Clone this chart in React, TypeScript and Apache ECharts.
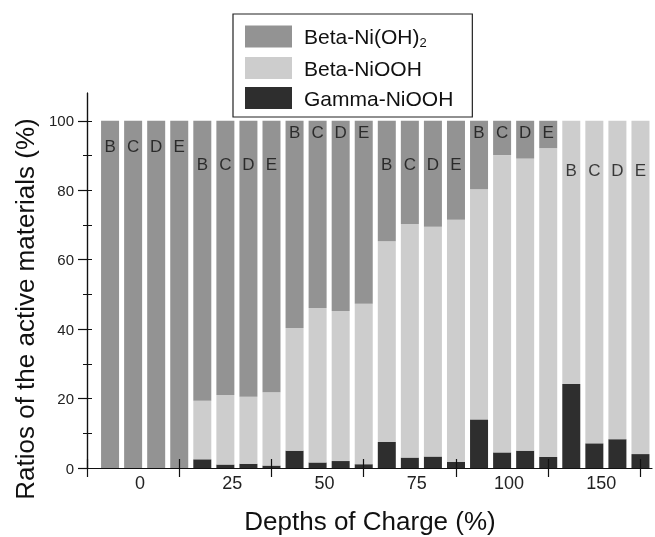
import React, { useEffect, useRef } from 'react';
import * as echarts from 'echarts';

const depthLabels = ['0', '25', '50', '75', '100', '150'];
const sampleLetters = ['B', 'C', 'D', 'E'];
const seriesNames = ['Beta-Ni(OH)2', 'Beta-NiOOH', 'Gamma-NiOOH'];

// per bar: groups 0,25,50,75,100,150 x samples B,C,D,E
const gammaNiOOH = [0, 0, 0, 0, 2.5, 1.0, 1.2, 0.7, 5.0, 1.6, 2.0, 1.1, 7.5, 3.0, 3.3, 1.8, 14.0, 4.5, 5.0, 3.2, 24.2, 7.1, 8.3, 4.0];
const betaNiOOH = [0, 0, 0, 0, 16.9, 20.0, 19.3, 21.1, 35.3, 44.5, 43.2, 46.2, 57.8, 67.3, 66.2, 69.7, 66.3, 85.6, 84.1, 88.9, 75.8, 92.9, 91.7, 96.0];
const betaNiOH2 = [100, 100, 100, 100, 80.6, 79.0, 79.5, 78.2, 59.7, 53.9, 54.8, 52.7, 34.7, 29.7, 30.5, 28.5, 19.7, 9.9, 10.9, 7.9, 0, 0, 0, 0];
const letterLevels = [92.5, 87.3, 96.5, 87.3, 96.5, 85.7];
const yLabelValues = [0, 20, 40, 60, 80, 100];
const yMinorValues = [10, 30, 50, 70, 90];

const colors = { ohm: '#939393', niooh: '#cdcdcd', gamma: '#2e2e2e' };

export default function App() {
  const ref = useRef<HTMLDivElement>(null);
  useEffect(() => {
    const chart = echarts.init(ref.current!, null, { renderer: 'svg' });
    // half-unit slots along the x axis: slot 2*(i+1) holds bar i
    const nSlots = 2 * betaNiOH2.length + 2;
    const slotCats = Array.from({ length: nSlots }, (_, j) => String(j));
    const slotOf = (i: number) => 2 * (i + 1);
    const toSlots = (arr: number[]) => {
      const out: any[] = slotCats.map(() => '-');
      arr.forEach((v, i) => {
        out[slotOf(i)] = v;
      });
      return out;
    };
    const xMax = (nSlots - 1) / 2;
    const groupTicks = depthLabels.map((_, k) => k * 4).concat([depthLabels.length * 4]);
    const labelPos = depthLabels.map((_, k) => k * 4 + 2.3);
    const font = 'Liberation Sans, Arial, Helvetica, sans-serif';
    const letterData: any[] = betaNiOH2.map((_, i) => [slotOf(i), letterLevels[Math.floor(i / 4)]]);
    const barCommon = {
      type: 'bar',
      stack: 'total',
      barWidth: 18,
      xAxisIndex: 0,
      yAxisIndex: 0,
    };
    chart.setOption({
      animation: false,
      textStyle: { fontFamily: font },
      grid: { left: 87, right: 3, top: 93, bottom: 69, containLabel: false, outerBoundsMode: 'none' },
      legend: {
        data: seriesNames,
        orient: 'vertical',
        left: 233,
        top: 14,
        padding: [10, 19, 8, 12],
        itemGap: 8,
        itemWidth: 47,
        itemHeight: 22,
        icon: 'rect',
        borderColor: '#222',
        borderWidth: 1.2,
        selectedMode: false,
        formatter: (name: string) => (name === 'Beta-Ni(OH)2' ? 'Beta-Ni(OH){sub|2}' : name),
        textStyle: {
          fontFamily: font,
          fontSize: 21,
          color: '#111',
          lineHeight: 22,
          padding: [0, 0, 0, 7],
          rich: {
            sub: { fontSize: 13, fontFamily: font, color: '#111', padding: [12, 0, 0, 0], lineHeight: 13 },
          },
        },
      },
      xAxis: [
        {
          type: 'category',
          data: slotCats,
          boundaryGap: false,
          position: 'bottom',
          offset: 0,
          axisLine: { show: false },
          axisTick: { show: false },
          axisLabel: { show: false },
          splitLine: { show: false },
        },
        {
          type: 'value',
          min: 0,
          max: xMax,
          position: 'bottom',
          offset: 0,
          axisLine: { show: true, lineStyle: { color: '#111', width: 1.2 } },
          axisTick: { show: true, customValues: groupTicks, length: 9, inside: false, lineStyle: { color: '#111', width: 1.2 } },
          axisLabel: {
            show: true,
            customValues: labelPos,
            fontSize: 18,
            color: '#222',
            margin: 6,
            fontFamily: font,
            formatter: (v: number) => {
              const k = labelPos.findIndex((p) => Math.abs(p - v) < 1e-6);
              return k >= 0 ? depthLabels[k] : '';
            },
          },
          splitLine: { show: false },
        },
        {
          type: 'value',
          min: 0,
          max: xMax,
          position: 'bottom',
          offset: 0,
          z: 10,
          axisLine: { show: false },
          axisTick: { show: true, customValues: groupTicks, length: 9, inside: true, lineStyle: { color: '#111', width: 1.2 } },
          axisLabel: { show: false },
          splitLine: { show: false },
        },
      ],
      yAxis: [
        {
          type: 'value',
          min: 0,
          max: 108,
          position: 'left',
          offset: 0,
          axisLine: { show: true, lineStyle: { color: '#111', width: 1.2 } },
          axisTick: { show: true, customValues: yLabelValues, length: 9, inside: false, lineStyle: { color: '#111', width: 1.2 } },
          axisLabel: { show: true, customValues: yLabelValues, fontSize: 15, color: '#222', margin: 13, fontFamily: font },
          splitLine: { show: false },
        },
        {
          type: 'value',
          min: 0,
          max: 108,
          position: 'right',
          offset: 0,
          axisLine: { show: true, lineStyle: { color: '#111', width: 1.2 } },
          axisTick: { show: true, customValues: [0, 10, 20, 30, 40, 50, 60, 70, 80, 90, 100], length: 5, inside: false, lineStyle: { color: '#111', width: 1 } },
          axisLabel: { show: false },
          splitLine: { show: false },
        },
        {
          type: 'value',
          min: 0,
          max: 108,
          position: 'left',
          offset: 0,
          axisLine: { show: false },
          axisTick: { show: true, customValues: yMinorValues, length: 4, inside: false, lineStyle: { color: '#111', width: 1 } },
          axisLabel: { show: false },
          splitLine: { show: false },
        },
      ],
      series: [
        { ...barCommon, name: seriesNames[2], data: toSlots(gammaNiOOH), itemStyle: { color: colors.gamma } },
        { ...barCommon, name: seriesNames[1], data: toSlots(betaNiOOH), itemStyle: { color: colors.niooh } },
        { ...barCommon, name: seriesNames[0], data: toSlots(betaNiOH2), itemStyle: { color: colors.ohm } },
        {
          type: 'scatter',
          name: 'letters',
          xAxisIndex: 0,
          yAxisIndex: 0,
          symbolSize: 0,
          z: 5,
          data: letterData,
          label: {
            show: true,
            position: 'inside',
            fontSize: 17,
            color: '#111',
            fontFamily: font,
            formatter: (p: any) => sampleLetters[p.dataIndex % 4],
          },
        },
      ],
      graphic: [
        {
          type: 'text',
          x: 25,
          y: 309,
          rotation: Math.PI / 2,
          style: {
            text: 'Ratios of the active materials (%)',
            fontSize: 26,
            fontFamily: font,
            fill: '#111',
            textAlign: 'center',
            textVerticalAlign: 'middle',
          },
        },
        {
          type: 'text',
          x: 370,
          y: 521,
          style: {
            text: 'Depths of Charge (%)',
            fontSize: 26,
            fontFamily: font,
            fill: '#111',
            textAlign: 'center',
            textVerticalAlign: 'middle',
          },
        },
      ],
    });
    return () => chart.dispose();
  }, []);
  return <div ref={ref} style={{ position: 'fixed', left: 0, top: 0, width: 655, height: 537 }} />;
}
